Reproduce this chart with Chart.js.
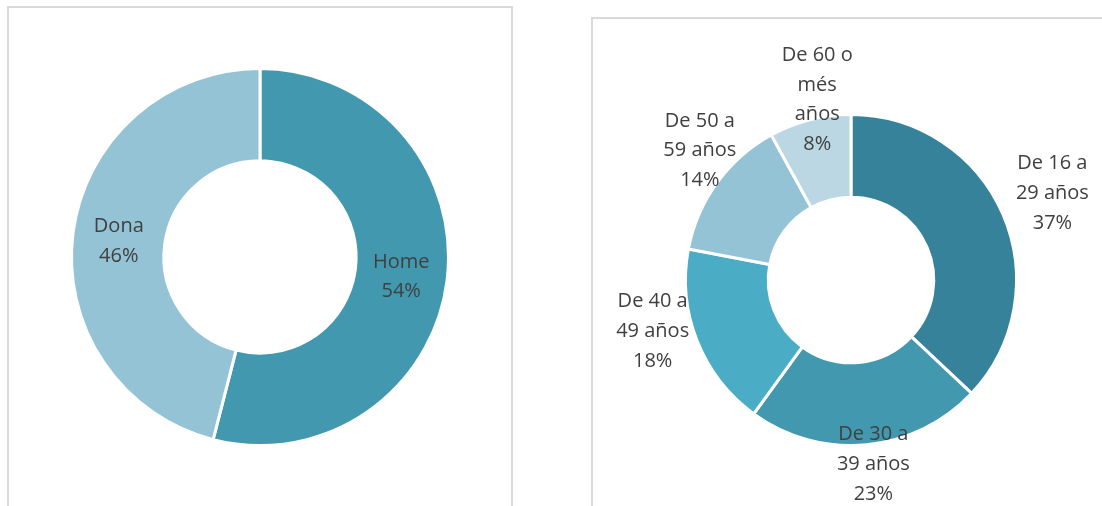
<!DOCTYPE html>
<html>
<head>
<meta charset="utf-8">
<script src="https://cdn.jsdelivr.net/npm/chart.js@4.4.0/dist/chart.umd.min.js"></script>
<style>
  html, body { margin: 0; padding: 0; background: #ffffff; width: 1102px; height: 506px; overflow: hidden; position: relative; }
  .box { position: absolute; box-sizing: border-box; border: 2px solid #d9d9d9; background: #ffffff; }
  #boxL { left: 7px; top: 6px; width: 506px; height: 600px; }
  #boxR { left: 591px; top: 17px; width: 600px; height: 600px; }
  canvas { position: absolute; }
  #cL { left: 0; top: 0; }
  #cR { left: 560px; top: 0; }
</style>
</head>
<body>
<div class="box" id="boxL"></div>
<div class="box" id="boxR"></div>
<canvas id="cL" width="560" height="506"></canvas>
<canvas id="cR" width="542" height="506"></canvas>
<script>
// ---- Data ----
const sexCategories = ["Home", "Dona"];
const sexValues = [54, 46];
const ageCategories = [["De 16 a", "29 años"], ["De 30 a", "39 años"], ["De 40 a", "49 años"], ["De 50 a", "59 años"], ["De 60 o", "més", "años"]];
const ageValues = [37, 23, 18, 14, 8];

// ---- Styles ----
const sexColors = ["#4298AF", "#93C3D4"];
const ageColors = ["#36829A", "#4298AF", "#4BACC6", "#93C3D4", "#BAD7E3"];
// label placement: radial distance as fraction of outer radius (null = ring middle), angle shift in degrees
const sexLabelPlace = [[null, 0], [null, 0]];
const ageLabelPlace = [[1.33, -0.4], [1.11, -1.6], [1.235, 7.6], [1.21, 5], [1.12, 3.9]];

const labelPlugin = {
  id: 'sliceLabels',
  afterDatasetsDraw(chart, args, opts) {
    const ctx = chart.ctx;
    const meta = chart.getDatasetMeta(0);
    const data = chart.data.datasets[0].data;
    const total = data.reduce((a, b) => a + b, 0);
    ctx.save();
    ctx.font = '20px "Open Sans"';
    ctx.fillStyle = '#404040';
    ctx.textAlign = 'center';
    ctx.textBaseline = 'middle';
    meta.data.forEach((arc, i) => {
      const p = arc.getProps(['x', 'y', 'startAngle', 'endAngle', 'innerRadius', 'outerRadius'], true);
      const place = opts.place[i];
      const mid = (p.startAngle + p.endAngle) / 2 + place[1] * Math.PI / 180;
      const dist = place[0] === null ? (p.innerRadius + p.outerRadius) / 2 : p.outerRadius * place[0];
      const cx = p.x + Math.cos(mid) * dist;
      const cy = p.y + Math.sin(mid) * dist + 2;
      let lab = chart.data.labels[i];
      const lines = (Array.isArray(lab) ? lab.slice() : [lab]);
      lines.push(Math.round(data[i] / total * 100) + '%');
      const lh = 29.8;
      const y0 = cy - (lines.length - 1) * lh / 2;
      lines.forEach((t, k) => ctx.fillText(t, cx, y0 + k * lh));
    });
    ctx.restore();
  }
};

function makeChart(id, labels, values, colors, padding, place, cutout) {
  new Chart(document.getElementById(id), {
    type: 'doughnut',
    data: { labels: labels, datasets: [{ data: values, backgroundColor: colors, borderColor: '#ffffff', borderWidth: 3 }] },
    options: {
      responsive: false,
      animation: false,
      cutout: cutout,
      layout: { padding: padding },
      plugins: { legend: { display: false }, tooltip: { enabled: false }, sliceLabels: { place: place } }
    },
    plugins: [labelPlugin]
  });
}

makeChart('cL', sexCategories, sexValues, sexColors, { left: 70, top: 67, right: 110, bottom: 59 }, sexLabelPlace, '51%');
makeChart('cR', ageCategories, ageValues, ageColors, { left: 124, top: 113, right: 84, bottom: 59 }, ageLabelPlace, '50%');
</script>
</body>
</html>
